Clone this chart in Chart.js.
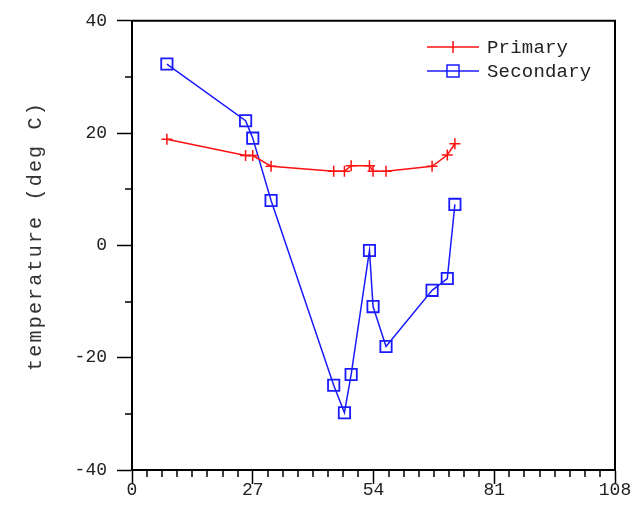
<!DOCTYPE html>
<html>
<head>
<meta charset="utf-8">
<script src="https://cdn.jsdelivr.net/npm/chart.js@4/dist/chart.umd.min.js"></script>
<style>
  html, body { margin: 0; padding: 0; background: #fff; }
  #wrap { width: 637px; height: 517px; }
</style>
</head>
<body>
<div id="wrap"><canvas id="tempChart" width="637" height="517"></canvas></div>
<script>
  // values
  const xValues = [7.8, 25.4, 27.0, 31.1, 45.1, 47.5, 49.0, 53.1, 53.9, 56.8, 67.1, 70.5, 72.2];
  const primaryTemps = [18.9, 16.0, 16.0, 14.1, 13.2, 13.2, 14.2, 14.2, 13.2, 13.2, 14.1, 16.1, 18.1];
  const secondaryTemps = [32.3, 22.2, 19.1, 8.0, -24.9, -29.8, -23.0, -0.9, -10.9, -18.0, -8.0, -5.9, 7.3];
  const seriesNames = ['Primary', 'Secondary'];
  const xTicks = [0, 27, 54, 81, 108];
  const yTicks = [-40, -20, 0, 20, 40];
  const yTitle = 'temperature (deg C)';

  const RED = '#ff1010';
  const BLUE = '#1a1aff';
  const monoFont = '"Liberation Mono", "DejaVu Sans Mono", monospace';

  function toPoints(ys) {
    return xValues.map(function (x, i) { return { x: x, y: ys[i] }; });
  }

  // frame, minor ticks, y title and legend
  const decorPlugin = {
    id: 'decor',
    afterDraw: function (chart) {
      const ctx = chart.ctx;
      const area = chart.chartArea;
      const xs = chart.scales.x;
      const ys = chart.scales.y;
      ctx.save();
      ctx.strokeStyle = '#000';
      ctx.lineWidth = 2;
      ctx.beginPath();
      ctx.moveTo(area.left, area.top);
      ctx.lineTo(area.right, area.top);
      ctx.lineTo(area.right, area.bottom);
      ctx.stroke();

      ctx.lineWidth = 1.5;
      ctx.beginPath();
      for (let v = 3.375; v < 108; v += 3.375) {
        if (Math.abs(v % 27) < 0.01) continue;
        const px = Math.round(xs.getPixelForValue(v));
        ctx.moveTo(px, area.bottom);
        ctx.lineTo(px, area.bottom + 7);
      }
      [-30, -10, 10, 30].forEach(function (v) {
        const py = Math.round(ys.getPixelForValue(v));
        ctx.moveTo(area.left - 7, py);
        ctx.lineTo(area.left, py);
      });
      ctx.stroke();

      // y axis title
      ctx.fillStyle = '#333';
      ctx.font = '20px ' + monoFont;
      ctx.letterSpacing = '2.2px';
      ctx.textAlign = 'center';
      ctx.textBaseline = 'middle';
      ctx.translate(36, 236);
      ctx.rotate(-Math.PI / 2);
      ctx.fillText(yTitle, 0, 0);
      ctx.restore();

      // legend: line with marker, then name
      ctx.save();
      ctx.font = '19px ' + monoFont;
      ctx.letterSpacing = '0.2px';
      ctx.textAlign = 'left';
      ctx.textBaseline = 'middle';
      const rows = [
        { name: seriesNames[0], color: RED, y: 47, mark: 'cross' },
        { name: seriesNames[1], color: BLUE, y: 71, mark: 'rect' }
      ];
      rows.forEach(function (r) {
        ctx.strokeStyle = r.color;
        ctx.lineWidth = 1.5;
        ctx.beginPath();
        ctx.moveTo(427, r.y);
        ctx.lineTo(479, r.y);
        if (r.mark === 'cross') {
          ctx.moveTo(453, r.y - 6);
          ctx.lineTo(453, r.y + 6);
        }
        ctx.stroke();
        if (r.mark === 'rect') {
          ctx.strokeRect(447, r.y - 6, 12, 12);
        }
        ctx.fillStyle = '#222';
        ctx.fillText(r.name, 487, r.y + 1);
      });
      ctx.restore();
    }
  };

  const ctx = document.getElementById('tempChart').getContext('2d');
  const tempChart = new Chart(ctx, {
    type: 'scatter',
    data: {
      datasets: [{
        label: seriesNames[0],
        data: toPoints(primaryTemps),
        showLine: true,
        borderColor: RED,
        borderWidth: 1.5,
        pointStyle: 'cross',
        pointRadius: 5.5,
        pointBorderWidth: 1.5,
        pointBorderColor: RED,
        pointBackgroundColor: 'transparent',
        tension: 0
      }, {
        label: seriesNames[1],
        data: toPoints(secondaryTemps),
        showLine: true,
        borderColor: BLUE,
        borderWidth: 1.5,
        pointStyle: 'rect',
        pointRadius: 8,
        pointBorderWidth: 1.8,
        pointBorderColor: BLUE,
        pointBackgroundColor: 'transparent',
        tension: 0
      }]
    },
    options: {
      responsive: false,
      animation: false,
      events: [],
      layout: { padding: { top: 19, right: 22, left: 0, bottom: 0 } },
      plugins: {
        legend: { display: false },
        tooltip: { enabled: false }
      },
      scales: {
        x: {
          type: 'linear',
          min: 0,
          max: 108,
          afterFit: function (scale) { scale.height = 47; },
          afterBuildTicks: function (scale) {
            scale.ticks = xTicks.map(function (v) { return { value: v }; });
          },
          ticks: {
            color: '#222',
            font: { family: monoFont, size: 18 },
            padding: -5,
            maxRotation: 0,
            autoSkip: false
          },
          grid: {
            drawOnChartArea: false,
            drawTicks: true,
            tickLength: 14,
            tickWidth: 1.5,
            tickColor: '#000'
          },
          border: { display: true, color: '#000', width: 2 }
        },
        y: {
          type: 'linear',
          min: -40,
          max: 40,
          afterFit: function (scale) { scale.width = 132; },
          afterBuildTicks: function (scale) {
            scale.ticks = yTicks.map(function (v) { return { value: v }; });
          },
          ticks: {
            color: '#222',
            font: { family: monoFont, size: 18 },
            padding: 10,
            autoSkip: false
          },
          grid: {
            drawOnChartArea: false,
            drawTicks: true,
            tickLength: 15,
            tickWidth: 1.5,
            tickColor: '#000'
          },
          border: { display: true, color: '#000', width: 2 }
        }
      }
    },
    plugins: [decorPlugin]
  });
</script>
</body>
</html>
